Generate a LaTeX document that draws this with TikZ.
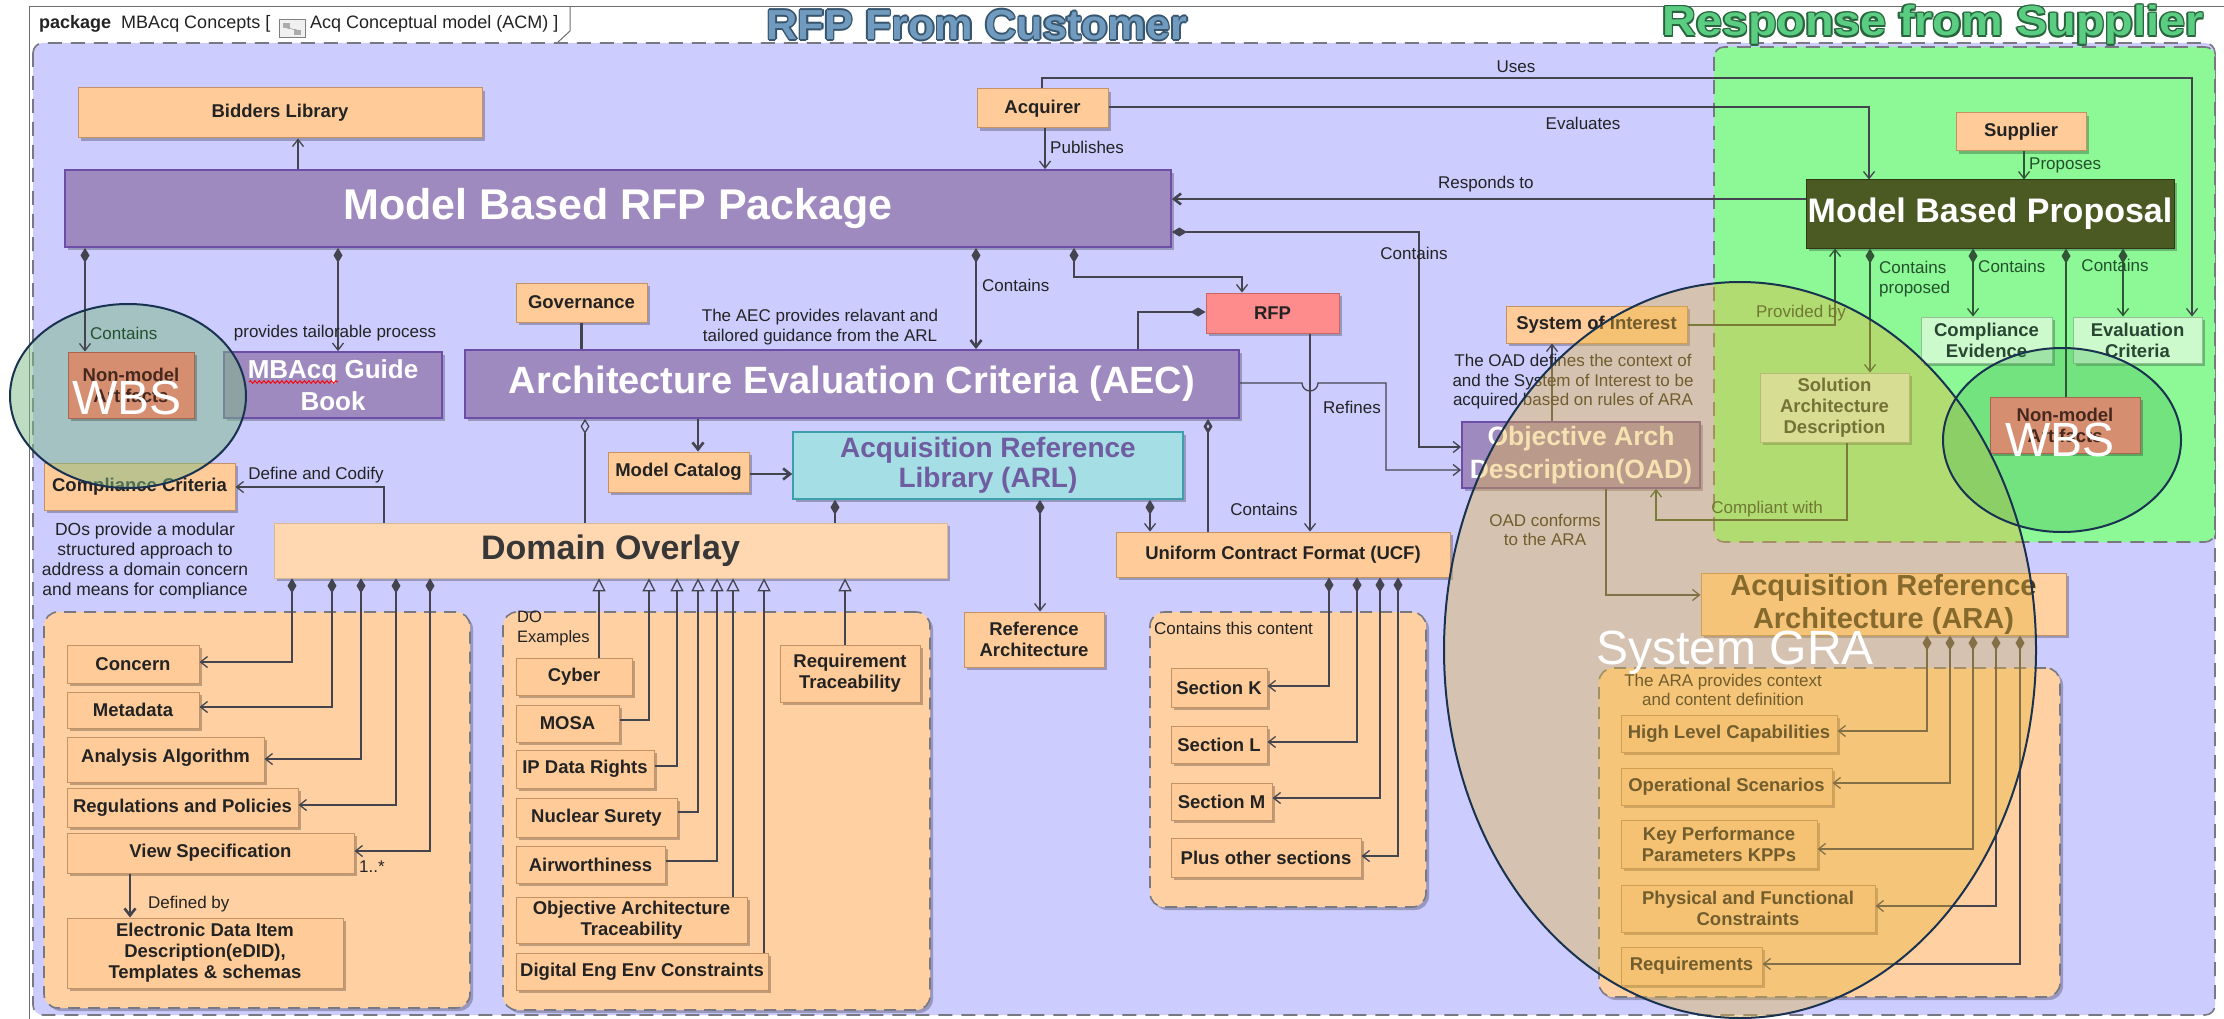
\documentclass[tikz,border=0pt]{standalone}
\usepackage{fontspec}
\setmainfont{Liberation Sans}
\usetikzlibrary{arrows.meta,shadows,decorations.pathmorphing}

\newcommand{\fs}[2]{\fontsize{#1}{#2}\selectfont}
% box from its corners: name, x1, y1, x2, y2, style, text
\newcommand{\bx}[7]{\node[#6, minimum width={(#4)-(#2)}, minimum height={(#5)-(#3)}] (#1) at ({((#2)+(#4))/2},{((#3)+(#5))/2}) {#7};}
% outlined banner text: name, x, y, fill, edge, text
\newcommand{\banner}[6]{%
  \foreach \dx/\dy in {-1.6/0,1.6/0,0/-1.6,0/1.6,-1.2/-1.2,1.2/1.2,-1.2/1.2,1.2/-1.2}
    {\node[titlefont, text=#5] at ({#2+\dx},{#3+\dy}) {#6};}
  \node[titlefont, text=#4] (#1) at (#2,#3) {#6};}

\definecolor{lav}{RGB}{204,204,255}
\definecolor{mint}{RGB}{140,248,150}
\definecolor{peach}{RGB}{255,204,153}
\definecolor{peachline}{RGB}{196,146,100}
\definecolor{cont}{RGB}{255,209,162}
\definecolor{purp}{RGB}{158,138,190}
\definecolor{purpline}{RGB}{108,78,168}
\definecolor{olive}{RGB}{75,90,35}
\definecolor{rfpred}{RGB}{255,140,140}
\definecolor{rfpline}{RGB}{200,100,100}
\definecolor{tealfill}{RGB}{165,222,228}
\definecolor{tealline}{RGB}{60,160,170}
\definecolor{arltext}{RGB}{112,92,160}
\definecolor{palegreen}{RGB}{205,250,205}
\definecolor{gline}{RGB}{150,190,150}
\definecolor{gtext}{RGB}{40,70,50}
\definecolor{salmon}{RGB}{214,142,112}
\definecolor{nmline}{RGB}{170,100,80}
\definecolor{nmtext}{RGB}{70,40,30}
\definecolor{domfill}{RGB}{255,216,178}
\definecolor{domtext}{RGB}{55,55,55}
\definecolor{arafill}{RGB}{255,208,160}
\definecolor{aratext}{RGB}{70,55,35}
\definecolor{wirec}{RGB}{68,68,78}
\definecolor{gwire}{RGB}{50,85,55}
\definecolor{ink}{RGB}{35,35,35}
\definecolor{gink}{RGB}{35,80,45}
\definecolor{dashgray}{RGB}{120,120,130}
\definecolor{frame}{RGB}{110,110,110}
\definecolor{gold}{RGB}{230,180,60}
\definecolor{wbsA}{RGB}{126,186,135}
\definecolor{wbsB}{RGB}{60,180,80}
\definecolor{ring}{RGB}{25,50,80}
\definecolor{custfill}{RGB}{112,155,190}
\definecolor{custedge}{RGB}{55,85,110}
\definecolor{supfill}{RGB}{90,205,130}
\definecolor{supedge}{RGB}{40,100,60}

\tikzset{
  shadowed/.style={drop shadow={shadow xshift=3pt,shadow yshift=-3pt,fill=black,opacity=0.25}},
  box/.style={shadowed, draw=peachline, fill=peach, line width=1pt, inner sep=0pt, align=center, text=ink, font=\fs{18.5}{21}\bfseries},
  pbox/.style={box, draw=purpline, fill=purp, line width=1.8pt, text=white},
  obox/.style={box, draw=olive!60!black, fill=olive, text=white, font=\fs{34}{38}\bfseries},
  rbox/.style={box, draw=rfpline, fill=rfpred},
  gbox/.style={box, draw=gline, fill=palegreen, text=gtext},
  nmbox/.style={box, draw=nmline, fill=salmon, text=nmtext},
  tbox/.style={box, draw=tealline, fill=tealfill, line width=1.6pt, text=arltext, font=\fs{28}{30}\bfseries},
  dbox/.style={box, draw=domfill!85!black, line width=0.6pt, fill=domfill, text=domtext, font=\fs{34}{38}\bfseries},
  abox/.style={box, fill=arafill, draw=peachline, text=aratext, font=\fs{29}{33}\bfseries},
  cbox/.style={shadowed, draw=dashgray, line width=1.6pt, dash pattern=on 12pt off 8pt, fill=cont, rounded corners=14pt, inner sep=0pt},
  wire/.style={draw=wirec, line width=1.3pt},
  gw/.style={draw=gwire, line width=1.3pt},
  thickw/.style={draw=wirec, line width=2.6pt},
  arr/.style={-{Straight Barb[length=7pt,width=11pt]}},
  darr/.style={{Diamond[length=15pt,width=9pt]}-{Straight Barb[length=7pt,width=11pt]}},
  dline/.style={{Diamond[length=15pt,width=9pt]}-},
  odline/.style={{Diamond[open,length=15pt,width=9pt]}-},
  gen/.style={-{Triangle[open,length=13pt,width=13pt]}},
  lbl/.style={font=\fs{17}{19.5}, text=ink, inner sep=0pt, align=center},
  glbl/.style={lbl, text=gink},
  titlefont/.style={font=\fs{42}{46}\bfseries, inner sep=0pt},
  bigtext/.style={font=\fs{48}{52}, text=white, inner sep=0pt},
}

\begin{document}
\begin{tikzpicture}[x=1pt,y=-1pt]
\useasboundingbox (0,0) rectangle (2224,1019);
\fill[white] (0,0) rectangle (2224,1019);

% diagram frame and its name tab
\draw[frame, line width=1pt] (29,1019) -- (29,7) -- (2224,7);
\draw[frame, line width=1pt] (570,7) -- (570,31) -- (557,43);
\node[lbl, font=\fs{18}{20}, anchor=west] (hdrA) at (39,24) {\textbf{package}\ \ MBAcq Concepts [};
\draw[gray, fill=gray!12] (279,19) rectangle (305,37);
\fill[gray!65] (283,23) rectangle (290,28);
\fill[gray!65] (294,30) rectangle (301,35);
\draw[gray] (287,28) -- (297,30);
\node[lbl, font=\fs{18}{20}, anchor=west] (hdrB) at (310,24) {Acq Conceptual model (ACM) ]};

% packages
\draw[draw=dashgray, line width=1.6pt, dash pattern=on 14pt off 9pt, fill=lav, rounded corners=10pt] (33,43) rectangle (2215,1015);
\draw[draw=dashgray, line width=1.6pt, dash pattern=on 14pt off 9pt, fill=mint, rounded corners=10pt] (1714,47) rectangle (2215,542);

\banner{custtitle}{977}{25}{custfill}{custedge}{\scalebox{1.03}[1]{RFP From Customer}}
\banner{suptitle}{1933}{25}{supfill}{supedge}{\scalebox{1.115}[1]{Response from Supplier}}

% containers
\bx{leftc}{44}{612}{470}{1008}{cbox}{}
\bx{doc}{503}{612}{930}{1010}{cbox}{}
\bx{ucfc}{1150}{612}{1426}{907}{cbox}{}
\bx{arac}{1599}{668}{2060}{997}{cbox}{}

% main elements
\bx{bidders}{78}{88}{482}{138}{box}{Bidders Library}
\bx{acq}{977}{89}{1108}{128}{box}{Acquirer}
\bx{supplier}{1956}{113}{2086}{151}{box}{Supplier}
\bx{mbrfp}{65}{170}{1171}{247}{pbox, font=\fs{43}{48}\bfseries}{Model Based RFP Package}
\bx{mbp}{1806}{180}{2174}{248}{obox}{Model Based Proposal}
\bx{gov}{516}{283}{647}{322}{box}{Governance}
\bx{rfp}{1206}{293}{1339}{333}{rbox}{RFP}
\bx{soi}{1506}{306}{1687}{343}{box}{System of Interest}
\bx{guide}{224}{352}{442}{418}{pbox, font=\fs{26}{32}\bfseries}{MBAcq Guide\\Book}
\draw[red, line width=0.9pt, decorate, decoration={snake, amplitude=1.3pt, segment length=4.5pt}] (249,382) -- (338,382);
\bx{aec}{465}{350}{1239}{418}{pbox, font=\fs{38}{42}\bfseries}{Architecture Evaluation Criteria (AEC)}
\bx{ce}{1921}{317}{2052}{363}{gbox}{Compliance\\Evidence}
\bx{ec}{2073}{317}{2202}{363}{gbox}{Evaluation\\Criteria}
\bx{sad}{1760}{373}{1909}{442}{gbox}{Solution\\Architecture\\Description}
\bx{oad}{1462}{422}{1700}{488}{pbox, font=\fs{26.5}{33}\bfseries}{Objective Arch\\Description(OAD)}
\bx{cc}{44}{463}{235}{510}{box}{Compliance Criteria}
\bx{mcat}{608}{452}{749}{492}{box}{Model Catalog}
\bx{arl}{793}{432}{1183}{499}{tbox}{Acquisition Reference\\Library (ARL)}
\bx{dom}{274}{523}{947}{578}{dbox}{Domain Overlay}
\bx{ucf}{1116}{532}{1450}{577}{box}{Uniform Contract Format (UCF)}
\bx{ara}{1701}{573}{2066}{635}{abox}{Acquisition Reference\\Architecture (ARA)}
\bx{refarch}{964}{612}{1104}{667}{box}{Reference\\Architecture}

% domain overlay parts
\bx{concern}{67}{645}{199}{683}{box}{Concern}
\bx{metadata}{67}{692}{199}{728}{box}{Metadata}
\bx{analysis}{67}{737}{264}{782}{box}{\raisebox{7pt}{Analysis Algorithm}}
\bx{regs}{67}{788}{298}{827}{box}{Regulations and Policies}
\bx{view}{67}{833}{354}{873}{box}{View Specification}
\bx{edid}{67}{918}{343}{988}{box}{Electronic Data Item\\Description(eDID),\\Templates \& schemas}

% domain overlay examples
\bx{cyber}{516}{658}{632}{695}{box}{Cyber}
\bx{mosa}{516}{705}{619}{742}{box}{MOSA}
\bx{ipdr}{516}{750}{654}{788}{box}{IP Data Rights}
\bx{nucl}{516}{798}{677}{837}{box}{Nuclear Surety}
\bx{airw}{516}{846}{665}{883}{box}{Airworthiness}
\bx{oat}{516}{897}{747}{943}{box}{Objective Architecture\\Traceability}
\bx{deec}{516}{953}{768}{990}{box}{Digital Eng Env Constraints}
\bx{reqtr}{780}{645}{920}{702}{box}{Requirement\\Traceability}

% contract sections
\bx{secK}{1171}{668}{1267}{707}{box}{Section K}
\bx{secL}{1171}{726}{1267}{763}{box}{Section L}
\bx{secM}{1171}{783}{1272}{820}{box}{Section M}
\bx{secP}{1171}{838}{1361}{877}{box}{Plus other sections}

% reference architecture content
\bx{hlc}{1621}{715}{1837}{752}{box}{High Level Capabilities}
\bx{ops}{1621}{768}{1832}{805}{box}{Operational Scenarios}
\bx{kpp}{1621}{820}{1817}{868}{box}{Key Performance\\Parameters KPPs}
\bx{pfc}{1621}{885}{1875}{932}{box}{Physical and Functional\\Constraints}
\bx{reqs}{1621}{947}{1762}{985}{box}{Requirements}

% connectors: customer side
\draw[wire,arr] (mbrfp.north -| 298,0) -- (bidders.south -| 298,0);
\draw[wire,arr] (acq.south -| 1045,0) -- (mbrfp.north -| 1045,0);
\draw[wire,arr] (acq.north -| 1042,0) -- (1042,78) -- (2192,78) -- (ec.north -| 2192,0);
\draw[wire,arr] (acq.east |- 0,107) -- (1869,107) -- (mbp.north -| 1869,0);
\draw[thickw,arr] (mbp.west |- 0,199) -- (mbrfp.east |- 0,199);
\draw[wire,darr] (mbrfp.east |- 0,232) -- (1419,232) -- (1419,447) -- (oad.west |- 0,447);
\draw[thickw,darr] (mbrfp.south -| 976,0) -- (aec.north -| 976,0);
\draw[wire,darr] (mbrfp.south -| 1074,0) -- (1074,277) -- (1242,277) -- (rfp.north -| 1242,0);
\draw[wire,dline] (rfp.west |- 0,312) -- (1138,312) -- (aec.north -| 1138,0);
\draw[wire,arr] (rfp.south -| 1310,0) -- (ucf.north -| 1310,0);
\draw[wire,arr] (aec.east |- 0,383) -- (1302,383) arc[start angle=180,end angle=360,radius=8pt] -- (1386,383) -- (1386,470) -- (oad.west |- 0,470);
\draw[thickw,odline] (aec.south -| 1208,0) -- (ucf.north -| 1208,0);
\draw[wire,odline] (aec.south -| 585,0) -- (dom.north -| 585,0);
\draw[thickw] (gov.south) -- (aec.north -| gov.south);
\draw[thickw,arr] (aec.south -| 698,0) -- (mcat.north -| 698,0);
\draw[thickw,arr] (mcat.east |- 0,474) -- (arl.west |- 0,474);
\draw[wire,dline] (arl.south -| 835,0) -- (dom.north -| 835,0);
\draw[wire,darr] (arl.south -| 1040,0) -- (refarch.north -| 1040,0);
\draw[wire,darr] (arl.south -| 1150,0) -- (ucf.north -| 1150,0);
\draw[wire,arr] (dom.north -| 384,0) -- (384,487) -- (cc.east |- 0,487);
\draw[wire,darr] (mbrfp.south -| 338,0) -- (guide.north -| 338,0);

\draw[wire,darr] (dom.south -| 292,0) -- (292,662) -- (concern.east |- 0,662);
\draw[wire,darr] (dom.south -| 332,0) -- (332,707) -- (metadata.east |- 0,707);
\draw[wire,darr] (dom.south -| 361,0) -- (361,759) -- (analysis.east |- 0,759);
\draw[wire,darr] (dom.south -| 396,0) -- (396,805) -- (regs.east |- 0,805);
\draw[wire,darr] (dom.south -| 430,0) -- (430,851) -- (view.east |- 0,851);
\draw[thickw,arr] (view.south -| 130,0) -- (edid.north -| 130,0);

\draw[wire,gen] (cyber.north -| 599,0) -- (dom.south -| 599,0);
\draw[wire,gen] (mosa.east |- 0,720) -- (649,720) -- (dom.south -| 649,0);
\draw[wire,gen] (ipdr.east |- 0,766) -- (677,766) -- (dom.south -| 677,0);
\draw[wire,gen] (nucl.east |- 0,812) -- (698,812) -- (dom.south -| 698,0);
\draw[wire,gen] (airw.east |- 0,861) -- (717,861) -- (dom.south -| 717,0);
\draw[wire,gen] (oat.north -| 733,0) -- (dom.south -| 733,0);
\draw[wire,gen] (deec.north -| 764,0) -- (dom.south -| 764,0);
\draw[wire,gen] (reqtr.north -| 845,0) -- (dom.south -| 845,0);

\draw[wire,darr] (ucf.south -| 1329,0) -- (1329,686) -- (secK.east |- 0,686);
\draw[wire,darr] (ucf.south -| 1357,0) -- (1357,742) -- (secL.east |- 0,742);
\draw[wire,darr] (ucf.south -| 1380,0) -- (1380,798) -- (secM.east |- 0,798);
\draw[wire,darr] (ucf.south -| 1398,0) -- (1398,856) -- (secP.east |- 0,856);

\draw[wire,arr] (oad.north -| 1552,0) -- (soi.south -| 1552,0);
\draw[wire,arr] (oad.south -| 1606,0) -- (1606,595) -- (ara.west |- 0,595);
\draw[wire,darr] (ara.south -| 1927,0) -- (1927,731) -- (hlc.east |- 0,731);
\draw[wire,darr] (ara.south -| 1950,0) -- (1950,783) -- (ops.east |- 0,783);
\draw[wire,darr] (ara.south -| 1973,0) -- (1973,849) -- (kpp.east |- 0,849);
\draw[wire,darr] (ara.south -| 1996,0) -- (1996,906) -- (pfc.east |- 0,906);
\draw[wire,darr] (ara.south -| 2020,0) -- (2020,964) -- (reqs.east |- 0,964);

% connectors: supplier side
\draw[gw,arr] (supplier.south -| 2024,0) -- (mbp.north -| 2024,0);
\draw[gw,arr] (soi.east |- 0,325) -- (1835,325) -- (mbp.south -| 1835,0);
\draw[gw,darr] (mbp.south -| 1870,0) -- (sad.north -| 1870,0);
\draw[gw,darr] (mbp.south -| 1973,0) -- (ce.north -| 1973,0);
\draw[gw,darr] (mbp.south -| 2123,0) -- (ec.north -| 2123,0);
\draw[gw,arr] (sad.south -| 1847,0) -- (1847,520) -- (1656,520) -- (oad.south -| 1656,0);

% connector labels and notes
\node[lbl] (lUses) at (1516,67) {Uses};
\node[lbl] (lEval) at (1583,123) {Evaluates};
\node[lbl, anchor=west] (lPub) at (1050,147) {Publishes};
\node[lbl, anchor=west] (lResp) at (1438,184) {Responds to};
\node[lbl] (lCo1) at (1414,253) {Contains};
\node[lbl, anchor=west] (lCo2) at (982,285) {Contains};
\node[lbl] (lAEC) at (820,327) {The AEC provides relavant and\\tailored guidance from the ARL};
\node[lbl] (lRef) at (1352,407) {Refines};
\node[lbl] (lCo3) at (1264,509) {Contains};
\node[lbl] (lOADn) at (1573,382) {The OAD defines the context of\\and the System of Interest to be\\acquired based on rules of ARA};
\node[lbl] (lConf) at (1545,530) {OAD conforms\\to the ARA};
\node[lbl] (lTail) at (335,333) {provides tailorable process};
\node[lbl] (lDef) at (316,475) {Define and Codify};
\node[lbl, font=\fs{17.5}{19.7}] (lDOs) at (145,561) {DOs provide a modular\\structured approach to\\address a domain concern\\and means for compliance};
\node[lbl, anchor=west] (lMult) at (359,867) {1..*};
\node[lbl, anchor=west] (lDefBy) at (148,904) {Defined by};
\node[lbl, anchor=north west, align=left, font=\fs{16.5}{19.5}] (lDOex) at (517,611) {DO\\Examples};
\node[lbl, anchor=west] (lUCFc) at (1154,628) {Contains this content};
\node[lbl] (lARAc) at (1723,690) {The ARA provides context\\and content definition};
\node[glbl, anchor=west] (lProp) at (2029,165) {Proposes};
\node[glbl, anchor=north west, align=left] (lCP) at (1879,261) {Contains\\proposed};
\node[glbl, anchor=west] (lCo4) at (1978,266) {Contains};
\node[glbl] (lCo5) at (2115,265) {Contains};
\node[glbl] (lProv) at (1801,313) {Provided by};
\node[glbl] (lComp) at (1767,509) {Compliant with};

% highlighted areas
\fill[gold, fill opacity=0.4] (1740,650) ellipse [x radius=296pt, y radius=368pt];
\fill[wbsB, fill opacity=0.3] (2062,440) ellipse [x radius=119pt, y radius=92pt];
\fill[wbsA, fill opacity=0.5] (128,396) ellipse [x radius=118pt, y radius=92pt];

% work breakdown artifacts
\bx{nm1}{68}{352}{194}{418}{nmbox}{Non-model\\Artifacts}
\bx{nm2}{1990}{397}{2140}{453}{nmbox}{Non-model\\Artifacts}
\draw[wire,darr] (mbrfp.south -| 85,0) -- (nm1.north -| 85,0);
\draw[gw,line width=2.2pt,dline] (mbp.south -| 2066,0) -- (nm2.north -| 2066,0);
\node[lbl, anchor=west, text=gink] (lCo6) at (90,333) {Contains};

\draw[ring, line width=2pt] (1740,650) ellipse [x radius=296pt, y radius=368pt];
\draw[ring, line width=2pt] (2062,440) ellipse [x radius=119pt, y radius=92pt];
\draw[ring, line width=2pt] (128,396) ellipse [x radius=118pt, y radius=92pt];
\node[bigtext] (wbs1) at (127,398) {WBS};
\node[bigtext] (wbs2) at (2060,440) {WBS};
\node[bigtext] (gra) at (1735,653) {System GRA};
\end{tikzpicture}
\end{document}
